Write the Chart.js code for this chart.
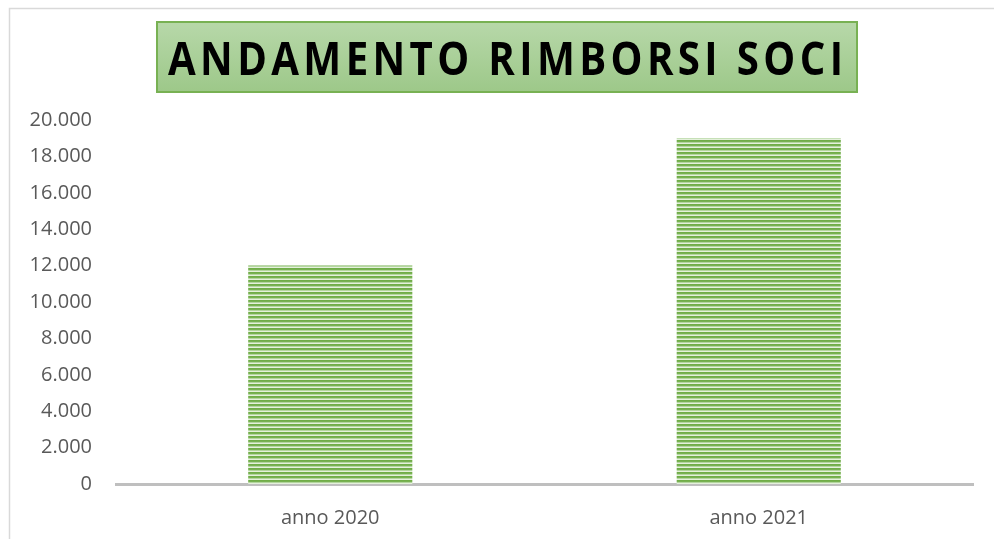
<!DOCTYPE html>
<html>
<head>
<meta charset="utf-8">
<script src="https://cdn.jsdelivr.net/npm/chart.js@4.4.0/dist/chart.umd.min.js"></script>
<style>
  html, body { margin: 0; padding: 0; background: #fff; }
  #wrap { width: 994px; height: 539px; }
</style>
</head>
<body>
<div id="wrap"><canvas id="RimborsiGraph" width="994" height="539"></canvas></div>
<script>
// data
const categories = ['anno 2020', 'anno 2021'];
const rimborsi = [12000, 19000];
const chartTitle = 'ANDAMENTO RIMBORSI SOCI';

// thousands with a dot, like the original
const fmt = v => String(v).replace(/\B(?=(\d{3})+(?!\d))/g, '.');

// horizontal stripes fill for the bars
function stripes(ctx) {
  const c = document.createElement('canvas');
  c.width = 4; c.height = 4;
  const p = c.getContext('2d');
  const rows = ['#70ad47', '#78b152', '#b4d69f', '#e4f0dc'];
  rows.forEach((col, i) => { p.fillStyle = col; p.fillRect(0, i, 4, 1); });
  return ctx.createPattern(c, 'repeat');
}

// frame + green title box
const titleBox = {
  id: 'titleBox',
  beforeDraw(chart) {
    const ctx = chart.ctx;
    ctx.save();
    ctx.fillStyle = '#fff';
    ctx.fillRect(0, 0, chart.width, chart.height);
    ctx.strokeStyle = '#d9d9d9';
    ctx.lineWidth = 1.5;
    ctx.beginPath();
    ctx.moveTo(9.5, chart.height);
    ctx.lineTo(9.5, 8.5);
    ctx.lineTo(chart.width, 8.5);
    ctx.stroke();
    ctx.restore();
  },
  afterDraw(chart) {
    const ctx = chart.ctx;
    const x = 157, y = 22, w = 700, h = 70;
    ctx.save();
    const g = ctx.createLinearGradient(0, y, 0, y + h);
    g.addColorStop(0, '#b7d8a9');
    g.addColorStop(1, '#9dc889');
    ctx.fillStyle = g;
    ctx.fillRect(x, y, w, h);
    ctx.strokeStyle = '#78b153';
    ctx.lineWidth = 2;
    ctx.strokeRect(x, y, w, h);
    ctx.font = 'bold 46px "Open Sans"';
    ctx.letterSpacing = '5px';
    ctx.fillStyle = '#000';
    ctx.textBaseline = 'alphabetic';
    const tw = ctx.measureText(chartTitle).width - 5;
    const target = 675;
    ctx.translate(168, 75);
    ctx.scale(target / tw, 1);
    ctx.textAlign = 'left';
    ctx.fillText(chartTitle, 0, 0);
    ctx.restore();
  }
};

const ctx = document.getElementById('RimborsiGraph').getContext('2d');

new Chart(ctx, {
  type: 'bar',
  data: {
    labels: categories,
    datasets: [{
      label: 'Rimborsi',
      data: rimborsi,
      backgroundColor: stripes(ctx),
      borderWidth: 0,
      categoryPercentage: 1,
      barPercentage: 0.383,
    }],
  },
  options: {
    responsive: false,
    animation: false,
    layout: { padding: { left: 10, right: 21, top: 120, bottom: 0 } },
    plugins: {
      legend: { display: false },
      title: { display: false },
      tooltip: { enabled: false },
    },
    scales: {
      x: {
        grid: { display: false, drawTicks: false },
        border: { display: true, color: '#bfbfbf', width: 3 },
        ticks: { color: '#595959', font: { family: 'Open Sans', size: 20 }, padding: 22 },
        afterFit: s => { s.height = 55; },
      },
      y: {
        min: 0,
        max: 20000,
        grid: { display: false, drawTicks: false },
        border: { display: false },
        ticks: {
          stepSize: 2000,
          color: '#595959',
          font: { family: 'Open Sans', size: 20 },
          padding: 24,
          callback: v => fmt(v),
        },
        afterFit: s => { s.width = 106; },
      },
    },
  },
  plugins: [titleBox],
});
</script>
</body>
</html>
